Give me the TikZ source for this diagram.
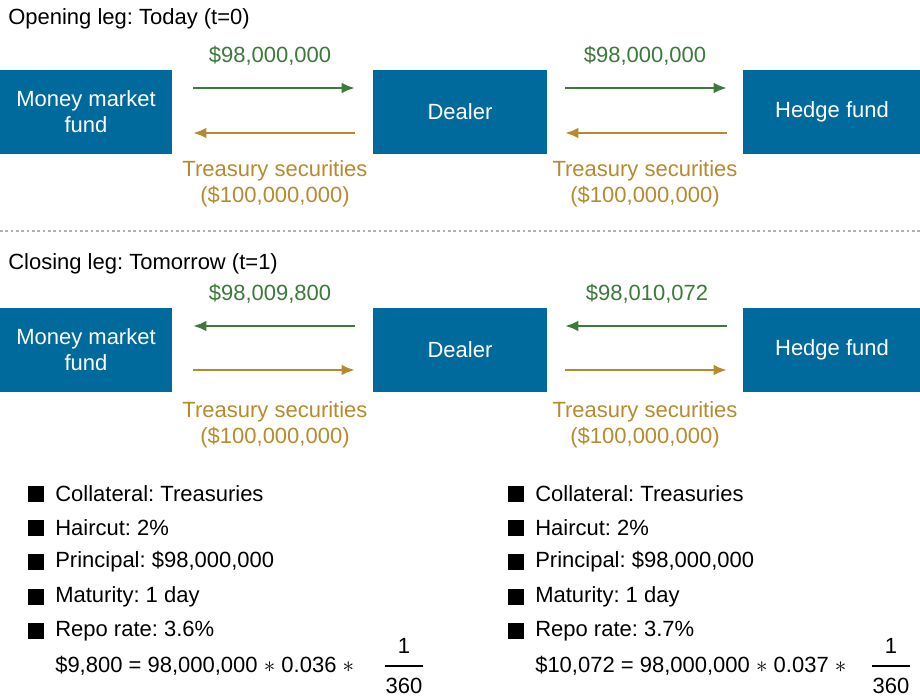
\documentclass[tikz,border=0pt]{standalone}
\usepackage{fontspec}
\setmainfont{Liberation Sans}
\usetikzlibrary{arrows.meta}
\definecolor{boxb}{HTML}{006A9C}
\definecolor{grn}{HTML}{3A7A3A}
\definecolor{gld}{HTML}{B78A2E}
\frenchspacing
\begin{document}
\begin{tikzpicture}[x=0.75pt,y=-0.75pt,
  box/.style={fill=boxb,text=white,align=center,inner sep=0pt},
  txt/.style={inner sep=0pt,font=\fontsize{16.5}{19.5}\selectfont},
  g/.style={txt,text=grn},
  o/.style={txt,text=gld,align=center},
  ag/.style={draw=grn,line width=2.2pt,-{Latex[length=10pt,width=8pt]}},
  ao/.style={draw=gld,line width=2.2pt,-{Latex[length=10pt,width=8pt]}}]
\useasboundingbox (0,0) rectangle (920,699);
\node[txt,anchor=west] (t1) at (8,19) {Opening leg: Today (t=0)};
\node[txt,anchor=west] (t2) at (8,264) {Closing leg: Tomorrow (t=1)};
\draw[gray!60,line width=1.5pt,dash pattern=on 2pt off 2pt] (0,231)--(920,231);
\foreach \y/\s in {70/a,308/b}{
  \fill[boxb] (0,\y) rectangle (172,\y+84);
  \fill[boxb] (373,\y) rectangle (547,\y+84);
  \fill[boxb] (743,\y) rectangle (920,\y+84);
  \node[box,txt,text=white,fill=none] (m\s) at (86,\y+42) {Money market\\fund};
  \node[box,txt,text=white,fill=none] (d\s) at (460,\y+42) {Dealer};
  \node[box,txt,text=white,fill=none] (h\s) at (832,\y+42) {Hedge fund};
}
% opening
\coordinate (a1) at (193,88); \coordinate (a2) at (355,88);
\coordinate (a3) at (355,133); \coordinate (a4) at (193,133);
\coordinate (a5) at (565,88); \coordinate (a6) at (727,88);
\coordinate (a7) at (727,133); \coordinate (a8) at (565,133);
\draw[ag] (a1)--(a2); \draw[ao] (a3)--(a4);
\draw[ag] (a5)--(a6); \draw[ao] (a7)--(a8);
\node[g] (l1) at (270,56) {\$98,000,000};
\node[g] (l2) at (645,56) {\$98,000,000};
\node[o] (l3) at (275,184) {Treasury securities\\(\$100,000,000)};
\node[o] (l4) at (645,184) {Treasury securities\\(\$100,000,000)};
% closing
\coordinate (b1) at (355,326); \coordinate (b2) at (193,326);
\coordinate (b3) at (193,370); \coordinate (b4) at (355,370);
\coordinate (b5) at (727,326); \coordinate (b6) at (565,326);
\coordinate (b7) at (565,370); \coordinate (b8) at (727,370);
\draw[ag] (b1)--(b2); \draw[ao] (b3)--(b4);
\draw[ag] (b5)--(b6); \draw[ao] (b7)--(b8);
\node[g] (l5) at (270,294) {\$98,009,800};
\node[g] (l6) at (647,294) {\$98,010,072};
\node[o] (l7) at (275,425) {Treasury securities\\(\$100,000,000)};
\node[o] (l8) at (645,425) {Treasury securities\\(\$100,000,000)};
% bullets
\foreach \x/\r in {36/3.6,516/3.7}{
  \foreach \y/\t in {494/{Collateral: Treasuries},528/{Haircut: 2\%},562/{Principal: \$98,000,000},597/{Maturity: 1 day},631/{Repo rate: \r\%}}{
    \fill (\x-8,\y-8) rectangle (\x+8,\y+8);
    \node[txt,anchor=west] at (\x+19,\y) {\t};
  }
}
\node[txt,anchor=west] (f1) at (55,666) {\$9,800 = 98,000,000 $\ast$ 0.036 $\ast$};
\node[txt] (n1) at (404,646) {1};
\draw[line width=0.8pt] (385,666)--(423,666);
\node[txt] (d1) at (404,686) {360};
\node[txt,anchor=west] (f2) at (535,666) {\$10,072 = 98,000,000 $\ast$ 0.037 $\ast$};
\node[txt] (n2) at (891,646) {1};
\draw[line width=0.8pt] (872,666)--(910,666);
\node[txt] (d2) at (891,686) {360};
\end{tikzpicture}
\end{document}
